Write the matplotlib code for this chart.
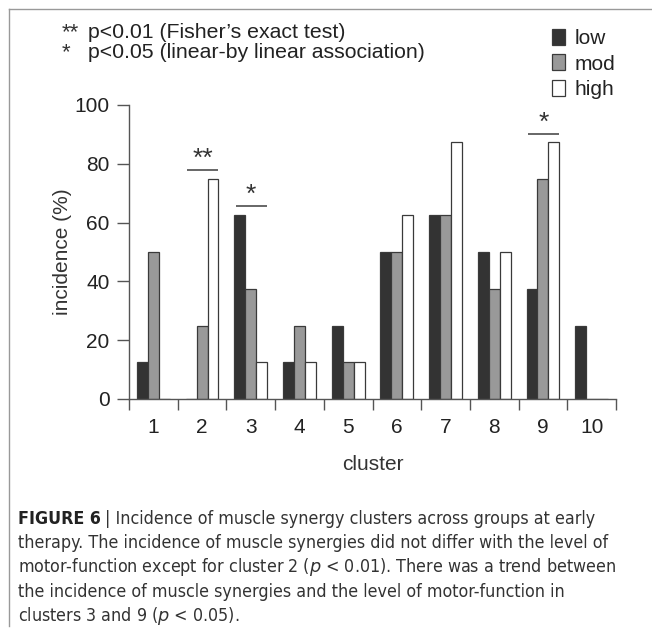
import numpy as np
import matplotlib
matplotlib.use('Agg')
import matplotlib.pyplot as plt
from matplotlib.patches import Patch
from matplotlib.lines import Line2D

clusters = [1, 2, 3, 4, 5, 6, 7, 8, 9, 10]
low = [12.5, 0, 62.5, 12.5, 25, 50, 62.5, 50, 37.5, 25]
mod = [50, 25, 37.5, 25, 12.5, 50, 62.5, 37.5, 75, 0]
high = [0, 75, 12.5, 12.5, 12.5, 62.5, 87.5, 50, 87.5, 0]
groups = ['low', 'mod', 'high']
group_colors = ['#333333', '#999999', '#ffffff']

# significance marks: (cluster, bar height, stars)
sig = [(2, 78, '**'), (3, 65.5, '*'), (9, 90, '*')]

note_lines = [('**', "p<0.01 (Fisher\u2019s exact test)"),
              ('*', 'p<0.05 (linear-by linear association)')]

caption_bold = 'FIGURE 6'
caption = ['Incidence of muscle synergy clusters across groups at early',
           'therapy. The incidence of muscle synergies did not differ with the level of',
           r'motor-function except for cluster 2 ($\it{p}$ < 0.01). There was a trend between',
           'the incidence of muscle synergies and the level of motor-function in',
           r'clusters 3 and 9 ($\it{p}$ < 0.05).']

plt.rcParams['font.family'] = ['Liberation Sans', 'DejaVu Sans']
txt = '#222222'
axc = '#555555'
fs = 15

W, H = 652, 635
fig = plt.figure(figsize=(W / 100, H / 100), dpi=100)
ax = fig.add_axes([129 / W, 1 - 399 / H, (616 - 129) / W, (399 - 105) / H])

x = np.array(clusters)
bw = 0.225
for i, (vals, c) in enumerate(zip([low, mod, high], group_colors)):
    ax.bar(x + (i - 1) * bw, vals, width=bw, color=c, edgecolor='#3a3a3a',
           linewidth=0.9, zorder=2)

for cl, h, s in sig:
    ax.plot([cl - 0.31, cl + 0.33], [h, h], color='#666666', lw=1.4,
            solid_capstyle='butt', zorder=3)
    ax.text(cl + 0.01, h - 0.3, s, ha='center', va='bottom', fontsize=19,
            color='#333333')

ax.set_xlim(0.5, 10.5)
ax.set_ylim(0, 100)
ax.set_yticks([0, 20, 40, 60, 80, 100])
ax.set_xticks(np.arange(0.5, 11, 1))
ax.set_xticklabels([])
ax.set_xticks(x, minor=True)
ax.set_xticklabels([str(c) for c in clusters], minor=True)
ax.tick_params(axis='x', which='major', direction='out', length=8,
               width=1, color=axc)
ax.tick_params(axis='x', which='minor', length=0, pad=14, labelsize=fs,
               labelcolor=txt)
ax.tick_params(axis='y', direction='out', length=9, width=1, color=axc,
               pad=5, labelsize=fs, labelcolor=txt)
for sp in ['top', 'right']:
    ax.spines[sp].set_visible(False)
for sp in ['left', 'bottom']:
    ax.spines[sp].set_color(axc)
    ax.spines[sp].set_linewidth(1)

ax.set_ylabel('incidence (%)', fontsize=fs, color='#333333', labelpad=1.5)
ax.set_xlabel('cluster', fontsize=fs, color='#333333', labelpad=13)

# legend
handles = [Patch(facecolor=c, edgecolor='#3a3a3a', linewidth=0.9)
           for c in group_colors]
fig.legend(handles, groups, loc='upper left', bbox_to_anchor=(552 / W, 1 - 29 / H),
           frameon=False, fontsize=fs, handlelength=0.6, handleheight=0.8,
           handletextpad=0.5, labelspacing=0.3, borderpad=0, borderaxespad=0,
           labelcolor=txt)

# significance notes
for k, (st, t) in enumerate(note_lines):
    yy = 1 - (33 + 20 * k) / H
    fig.text(62 / W, yy, st, ha='left', va='center', fontsize=16, color='#333333')
    fig.text(88 / W, yy, t, ha='left', va='center', fontsize=15.3, color=txt)

# frame
fig.add_artist(Line2D([9 / W, 1], [1 - 9 / H, 1 - 9 / H], color='#999999', lw=1))
fig.add_artist(Line2D([9 / W, 9 / W], [1 - 9 / H, 1 - 626 / H], color='#999999', lw=1))

# caption, sized so the longest line fits the reference width
cfont = ['DejaVu Sans']
probe = fig.text(0, 0, caption[2], fontsize=12, family=cfont, stretch='condensed')
fig.canvas.draw()
cfs = 12 * 597 / probe.get_window_extent().width
probe.remove()

cy0 = 519
t0 = fig.text(18 / W, 1 - cy0 / H, caption_bold, ha='left', va='center',
              fontsize=cfs, fontweight='bold', family=cfont, stretch='condensed',
              color=txt)
fig.canvas.draw()
bb = t0.get_window_extent()
fig.text((bb.x1 + 4) / W, 1 - cy0 / H, '| ' + caption[0], ha='left', va='center',
         fontsize=cfs, family=cfont, stretch='condensed', color='#333333')
for k, line in enumerate(caption[1:]):
    fig.text(18 / W, 1 - (cy0 + 24.2 * (k + 1)) / H, line, ha='left', va='center',
             fontsize=cfs, family=cfont, stretch='condensed', color='#333333')

fig.savefig('out.png', dpi=100)
